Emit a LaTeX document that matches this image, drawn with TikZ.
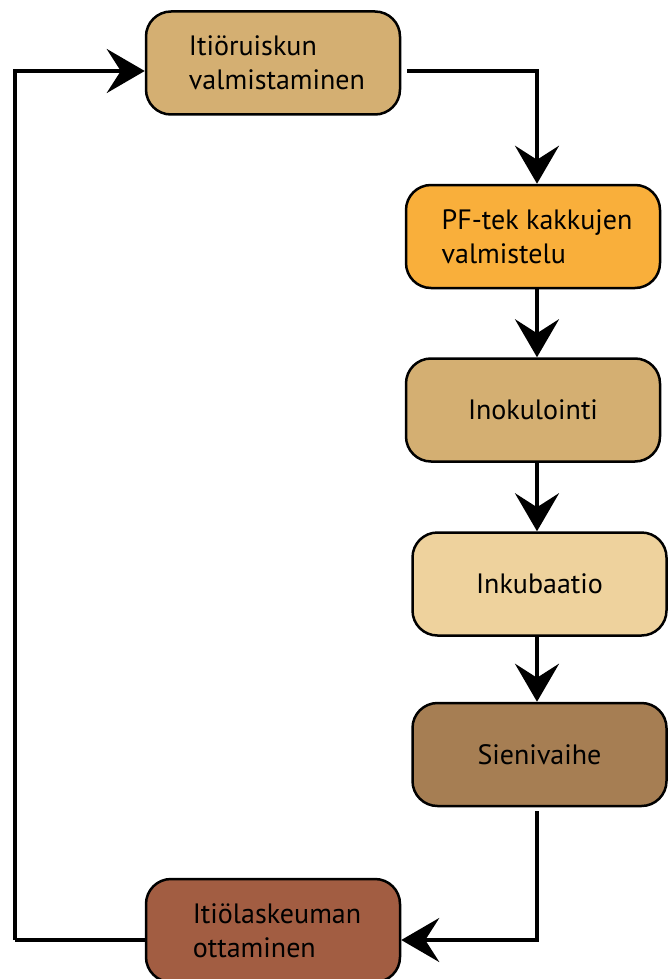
\documentclass[tikz,border=0pt]{standalone}
\usepackage{fontspec}
\setmainfont{PT Sans}
\usetikzlibrary{arrows.meta}
\definecolor{tanA}{HTML}{D4AF72}
\definecolor{orangeA}{HTML}{F9AF3B}
\definecolor{paleA}{HTML}{EED29D}
\definecolor{brownA}{HTML}{A67E53}
\definecolor{rustA}{HTML}{A25D42}
\tikzset{
  box/.style={draw=black, line width=2.5pt, rounded corners=25pt, minimum width=254pt, minimum height=103pt, align=left, font=\fontsize{28}{34}\selectfont, inner sep=0pt},
  arr/.style={line width=4pt, -{Stealth[length=38pt,width=44pt,inset=14pt]}},
  ln/.style={line width=4pt}
}
\begin{document}
\begin{tikzpicture}[x=1pt,y=-1pt]
\useasboundingbox (0,0) rectangle (669,979);
\node[box, fill=tanA] (n1) at (273,63) {\hspace*{8pt}Itiöruiskun\\\hspace*{8pt}valmistaminen};
\node[box, fill=orangeA] (n2) at (533,236.5) {\hspace*{8pt}PF-tek kakkujen\\\hspace*{8pt}valmistelu};
\node[box, fill=tanA] (n3) at (533,410) {Inokulointi};
\node[box, fill=paleA] (n4) at (539.5,584) {Inkubaatio};
\node[box, fill=brownA] (n5) at (539.5,754.5) {Sienivaihe};
\node[box, fill=rustA] (n6) at (273,930.5) {\hspace*{8pt}Itiölaskeuman\\\hspace*{8pt}ottaminen};
\coordinate (cl) at (15,940);
\draw[arr] ([xshift=6pt,yshift=-8pt]n1.east) -| ([xshift=4pt]n2.north);
\draw[arr] ([xshift=4pt]n2.south) -- ([xshift=4pt]n3.north);
\draw[arr] ([xshift=4pt]n3.south) -- ([xshift=-2.5pt]n4.north);
\draw[arr] ([xshift=-2.5pt]n4.south) -- ([xshift=-2.5pt]n5.north);
\draw[arr] ([xshift=-2.5pt,yshift=-4pt]n5.south) |- ([yshift=-9.5pt]n6.east);
\draw[ln] ([yshift=-9.5pt]n6.west) -- (cl);
\draw[arr] (cl) |- ([yshift=-8pt]n1.west);
\end{tikzpicture}
\end{document}
